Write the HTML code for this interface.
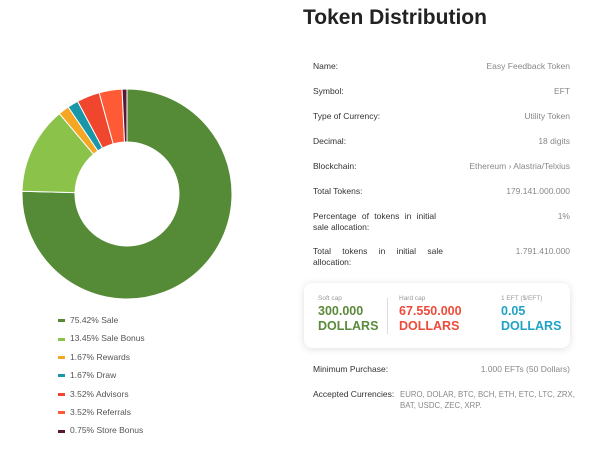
<!DOCTYPE html>
<html><head><meta charset="utf-8"><style>
body{margin:0;width:602px;height:449px;background:#fff;font-family:"Liberation Sans",sans-serif;position:relative;overflow:hidden}
.a{position:absolute}
.lab{position:absolute;left:313px;font-size:8.5px;color:#333}
.val{position:absolute;right:32px;font-size:8.5px;color:#888;text-align:right}
.leg{position:absolute;left:58px;font-size:8.5px;color:#555;height:12px;line-height:12px}
.leg i{display:inline-block;width:7px;height:3px;margin-right:5px;vertical-align:middle}
.big{font-size:12.5px;line-height:15px;font-weight:bold}
</style></head><body>
<svg class="a" style="left:0;top:0" width="260" height="310" id="chart"></svg>
<div id="legend"></div>
<div class="a" style="left:303px;top:6px;font-size:21px;font-weight:bold;color:#222">Token Distribution</div>
<div class="lab" style="top:61px">Name:</div><div class="val" style="top:61px">Easy Feedback Token</div>
<div class="lab" style="top:86px">Symbol:</div><div class="val" style="top:86px">EFT</div>
<div class="lab" style="top:111px">Type of Currency:</div><div class="val" style="top:111px">Utility Token</div>
<div class="lab" style="top:136px">Decimal:</div><div class="val" style="top:136px">18 digits</div>
<div class="lab" style="top:161px">Blockchain:</div><div class="val" style="top:161px">Ethereum › Alastria/Telxius</div>
<div class="lab" style="top:186px">Total Tokens:</div><div class="val" style="top:186px">179.141.000.000</div>
<div class="lab" style="top:211px;width:130px;line-height:11px"><span style="word-spacing:3px">Percentage of tokens in initial</span><br>sale allocation:</div><div class="val" style="top:211px">1%</div>
<div class="lab" style="top:246px;width:130px;text-align:justify;text-align-last:left;line-height:11px">Total tokens in initial sale allocation:</div><div class="val" style="top:246px">1.791.410.000</div>
<div class="a" style="left:304px;top:283px;width:266px;height:65px;border-radius:8px;background:#fff;box-shadow:0 1px 8px rgba(0,0,0,0.13)">
 <div class="a" style="left:14px;top:12px;font-size:6.5px;color:#999">Soft cap</div>
 <div class="a big" style="left:14px;top:21px;color:#5a8a3a">300.000<br>DOLLARS</div>
 <div class="a" style="left:83px;top:15px;width:1px;height:36px;background:#ddd"></div>
 <div class="a" style="left:95px;top:12px;font-size:6.5px;color:#999">Hard cap</div>
 <div class="a big" style="left:95px;top:21px;color:#ef4b3a">67.550.000<br>DOLLARS</div>
 <div class="a" style="left:197px;top:12px;font-size:6.5px;color:#999">1 EFT ($/EFT)</div>
 <div class="a big" style="left:197px;top:21px;color:#1fa3c4">0.05<br>DOLLARS</div>
</div>
<div class="lab" style="top:364px">Minimum Purchase:</div><div class="val" style="top:364px">1.000 EFTs (50 Dollars)</div>
<div class="lab" style="top:389px">Accepted Currencies:</div>
<div class="a" style="left:400px;top:389px;width:200px;white-space:nowrap;font-size:7.8px;line-height:11px;color:#888">EURO, DOLAR, BTC, BCH, ETH, ETC, LTC, ZRX,<br>BAT, USDC, ZEC, XRP.</div>
<script>
const categories=["Sale","Sale Bonus","Rewards","Draw","Advisors","Referrals","Store Bonus"];
const values=[75.42,13.45,1.67,1.67,3.52,3.52,0.75];
const colors=["#558b36","#8bc34a","#f5a623","#1897a8","#f0462e","#ff5a36","#5a1836"];
const svg=document.getElementById('chart');
const cx=127,cy=194,R=105,r=52;
const total=values.reduce((a,b)=>a+b,0);
function pt(a,rad){return [cx+rad*Math.sin(a),cy-rad*Math.cos(a)];}
let acc=0;
values.forEach((v,i)=>{
 const a0=acc/total*2*Math.PI;acc+=v;const a1=acc/total*2*Math.PI;
 const lg=(a1-a0)>Math.PI?1:0;
 const [x0,y0]=pt(a0,R),[x1,y1]=pt(a1,R),[x2,y2]=pt(a1,r),[x3,y3]=pt(a0,r);
 const p=document.createElementNS('http://www.w3.org/2000/svg','path');
 p.setAttribute('d',`M${x0},${y0}A${R},${R} 0 ${lg} 1 ${x1},${y1}L${x2},${y2}A${r},${r} 0 ${lg} 0 ${x3},${y3}Z`);
 p.setAttribute('fill',colors[i]);p.setAttribute('stroke','#fff');p.setAttribute('stroke-width','1');
 
 
 svg.appendChild(p);
 const d=document.createElement('div');d.className='leg';d.style.top=(314+i*18.4)+'px';
 d.innerHTML=`<i style="background:${colors[i]}"></i>${v}% ${categories[i]}`;
 
 
 document.getElementById('legend').appendChild(d);
});
</script>
</body></html>
